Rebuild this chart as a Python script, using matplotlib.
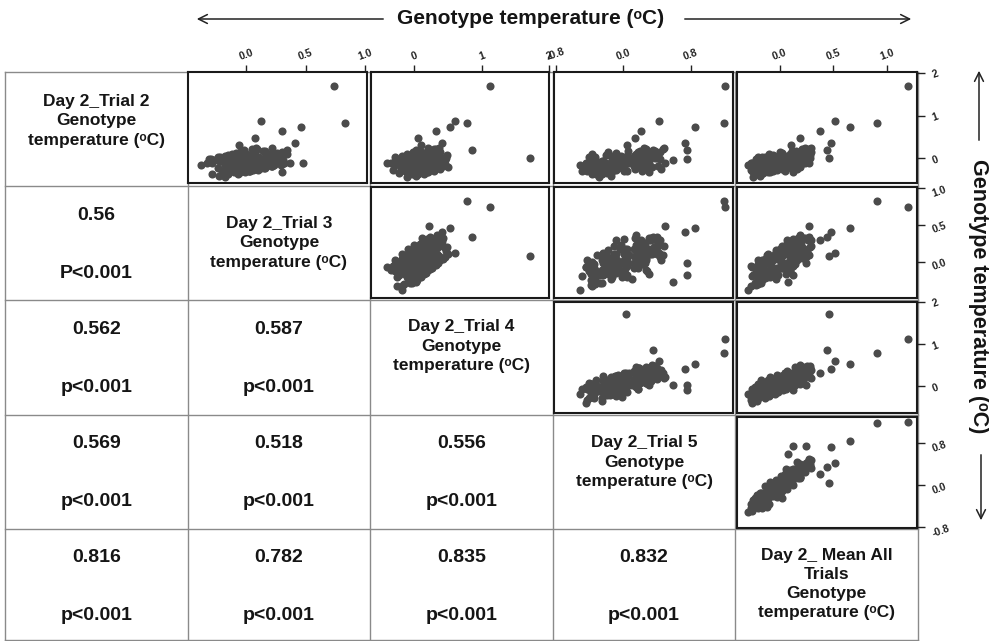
import matplotlib
matplotlib.use("Agg")
import matplotlib.pyplot as plt

plt.rcParams['font.family'] = ['Liberation Sans', 'DejaVu Sans']

# Genotype canopy temperature (°C) on day 2, one entry per genotype
trial2 = [-0.11, -0.43, -0.12, -0.35, -0.12, -0.14, -0.01, -0.29, -0.35, -0.15,
          -0.17, -0.24, -0.03, -0.36, -0.06, -0.29, -0.07, -0.08, 0.04, -0.24,
          -0.30, -0.10, -0.13, -0.19, 0.01, -0.32, -0.01, -0.25, -0.03, -0.04,
          0.08, -0.20, -0.26, -0.06, -0.09, -0.15, 0.05, -0.28, 0.03, -0.21,
          0.02, 0.00, 0.12, -0.16, -0.22, -0.02, -0.05, -0.11, 0.09, -0.24,
          0.07, -0.17, 0.06, 0.04, 0.17, -0.11, -0.18, 0.03, 0.01, -0.06,
          0.15, -0.18, 0.13, -0.11, 0.12, 0.10, 0.23, -0.05, -0.12, 0.09,
          0.07, 0.01,
          1.70, 0.83, 0.88, 0.74, 0.63, 0.48, 0.35, -0.11, -0.33, 0.01,
          0.19, 0.19, -0.02, -0.05, 0.30, 0.15, 0.00, 0.22,
          -0.27, -0.24, -0.16, -0.36, -0.42, -0.31, 0.02, -0.02, -0.07, -0.25,
          -0.21, -0.18, -0.11, -0.30, -0.37, -0.27, 0.06, 0.03, -0.02, -0.21,
          -0.17, -0.14, -0.07, -0.27, -0.33, -0.23, 0.10, 0.06, 0.02, -0.17,
          -0.13, -0.11, -0.03, -0.23, -0.29, -0.19, 0.14, 0.10, 0.06, -0.13,
          -0.09, -0.07, 0.01, -0.19, -0.25, -0.15, 0.18, 0.15, 0.10, -0.09,
          -0.04, -0.02, 0.06, -0.14, -0.20, -0.10, 0.24, 0.21, 0.17, -0.02]
trial3 = [-0.33, -0.18, -0.07, -0.07, -0.11, -0.18, -0.30, -0.19, -0.06, -0.03,
          -0.18, -0.24, -0.21, -0.07, 0.03, 0.03, -0.02, -0.10, -0.22, -0.11,
          0.02, 0.04, -0.11, -0.16, -0.14, -0.01, 0.10, 0.09, 0.04, -0.03,
          -0.15, -0.04, 0.08, 0.10, -0.05, -0.10, -0.08, 0.06, 0.17, 0.16,
          0.10, 0.03, -0.09, 0.02, 0.15, 0.17, 0.02, -0.04, -0.02, 0.12,
          0.23, 0.23, 0.17, 0.10, -0.02, 0.09, 0.22, 0.25, 0.10, 0.04,
          0.07, 0.21, 0.32, 0.32, 0.26, 0.19, 0.08, 0.19, 0.32, 0.34,
          0.20, 0.15,
          0.74, 0.83, 0.12, 0.46, 0.30, 0.07, 0.41, 0.48, 0.30, 0.08,
          0.34, -0.02, -0.18, -0.27, -0.06, 0.30, 0.28, 0.09,
          -0.06, -0.16, -0.38, -0.29, -0.23, 0.02, -0.13, -0.31, -0.21, -0.08,
          0.04, -0.07, -0.29, -0.20, -0.15, 0.10, -0.06, -0.24, -0.14, -0.01,
          0.11, 0.00, -0.23, -0.15, -0.10, 0.16, 0.00, -0.18, -0.08, 0.04,
          0.17, 0.05, -0.17, -0.08, -0.03, 0.22, 0.06, -0.12, -0.02, 0.11,
          0.24, 0.12, -0.11, -0.02, 0.03, 0.29, 0.14, -0.05, 0.05, 0.18,
          0.31, 0.20, -0.03, 0.06, 0.11, 0.37, 0.22, 0.05, 0.16, 0.29]
trial4 = [-0.26, -0.11, -0.41, -0.22, -0.35, -0.22, -0.15, -0.06, -0.09, -0.28,
          -0.05, 0.04, -0.10, 0.05, -0.28, -0.08, -0.23, -0.10, -0.04, 0.05,
          0.02, -0.18, 0.05, 0.14, -0.01, 0.13, -0.18, 0.00, -0.15, -0.01,
          0.05, 0.14, 0.11, -0.09, 0.14, 0.23, 0.08, 0.22, -0.09, 0.09,
          -0.06, 0.07, 0.13, 0.23, 0.20, 0.00, 0.23, 0.32, 0.17, 0.31,
          0.00, 0.19, 0.03, 0.16, 0.23, 0.32, 0.30, 0.11, 0.34, 0.43,
          0.29, 0.43, 0.12, 0.31, 0.16, 0.29, 0.37, 0.46, 0.43, 0.24,
          0.48, 0.47,
          1.13, 0.78, 0.60, 0.53, 0.32, 0.05, 0.41, 0.22, 0.19, 1.72,
          0.86, 0.03, -0.09, 0.03, 0.10, 0.38, 0.42, 0.30,
          -0.32, -0.14, -0.18, -0.03, 0.03, -0.13, -0.28, -0.17, -0.25, -0.19,
          -0.18, -0.01, -0.06, 0.10, 0.14, -0.03, -0.18, -0.07, -0.15, -0.09,
          -0.09, 0.08, 0.03, 0.17, 0.21, 0.06, -0.11, 0.01, -0.07, -0.01,
          0.00, 0.16, 0.11, 0.26, 0.30, 0.14, -0.02, 0.09, 0.02, 0.08,
          0.09, 0.25, 0.20, 0.35, 0.39, 0.23, 0.08, 0.19, 0.11, 0.18,
          0.19, 0.36, 0.31, 0.46, 0.50, 0.34, 0.20, 0.33, 0.26, 0.33]
trial5 = [-0.37, -0.29, -0.44, -0.19, -0.25, -0.16, -0.34, -0.49, -0.15, -0.35,
          -0.24, -0.37, -0.13, -0.37, -0.25, -0.43, -0.08, 0.02, -0.34, -0.33,
          0.01, -0.21, -0.09, -0.23, 0.00, -0.24, -0.11, -0.31, 0.05, 0.15,
          -0.21, -0.20, 0.14, -0.08, 0.03, -0.10, 0.13, -0.11, 0.02, -0.18,
          0.18, 0.27, -0.09, -0.07, 0.27, 0.05, 0.16, 0.03, 0.26, 0.01,
          0.15, -0.03, 0.31, 0.40, 0.06, 0.07, 0.41, 0.21, 0.32, 0.19,
          0.43, 0.19, 0.33, 0.14, 0.26, 0.15, 0.25, 0.27, 0.30, 0.40,
          0.37, 0.38,
          1.21, 1.19, 0.42, 0.85, 0.21, 0.14, 0.73, 0.50, 0.31, 0.03,
          0.35, 0.75, 0.75, 0.59, 0.05, 0.33, 0.40, 0.47,
          -0.43, -0.38, -0.51, -0.25, -0.15, -0.24, -0.40, -0.38, -0.01, -0.35,
          -0.22, -0.44, -0.27, 0.05, -0.32, -0.24, -0.15, -0.38, -0.04, -0.13,
          0.01, -0.41, 0.10, -0.09, -0.15, 0.01, -0.37, 0.04, 0.17, -0.16,
          -0.04, -0.23, 0.31, -0.06, 0.22, -0.11, -0.18, 0.28, -0.03, 0.27,
          0.19, -0.24, 0.27, 0.13, 0.45, -0.08, 0.20, 0.18, 0.17, 0.13,
          0.01, 0.22, 0.23, 0.15, 0.34, 0.15, 0.48, 0.27, 0.38, 0.44]
mean_all = [-0.27, -0.25, -0.26, -0.21, -0.21, -0.18, -0.20, -0.26, -0.16, -0.20,
            -0.16, -0.20, -0.12, -0.19, -0.14, -0.20, -0.10, -0.07, -0.14, -0.16,
            -0.06, -0.11, -0.07, -0.11, -0.04, -0.11, -0.05, -0.12, -0.02, 0.02,
            -0.06, -0.08, 0.02, -0.03, 0.01, -0.03, 0.05, -0.03, 0.03, -0.04,
            0.06, 0.10, 0.02, 0.01, 0.10, 0.05, 0.09, 0.05, 0.13, 0.05,
            0.11, 0.06, 0.14, 0.18, 0.11, 0.10, 0.19, 0.15, 0.19, 0.15,
            0.24, 0.16, 0.22, 0.17, 0.20, 0.19, 0.23, 0.22, 0.23, 0.27,
            0.28, 0.25,
            1.20, 0.91, 0.51, 0.65, 0.37, 0.19, 0.48, 0.27, 0.12, 0.46,
            0.44, 0.24, 0.12, 0.08, 0.10, 0.29, 0.28, 0.27,
            -0.27, -0.23, -0.30, -0.23, -0.19, -0.17, -0.20, -0.22, -0.14, -0.22,
            -0.14, -0.17, -0.18, -0.09, -0.18, -0.11, -0.08, -0.17, -0.09, -0.11,
            -0.04, -0.12, -0.04, -0.08, -0.09, 0.00, -0.10, -0.02, 0.01, -0.08,
            0.00, -0.03, 0.06, -0.03, 0.05, 0.02, 0.00, 0.09, 0.01, 0.08,
            0.11, 0.02, 0.09, 0.07, 0.16, 0.07, 0.15, 0.12, 0.11, 0.10,
            0.12, 0.19, 0.14, 0.14, 0.19, 0.19, 0.29, 0.21, 0.24, 0.26]

var_labels = [
    "Day 2_Trial 2\nGenotype\ntemperature (\u1d52C)",
    "Day 2_Trial 3\nGenotype\ntemperature (\u1d52C)",
    "Day 2_Trial 4\nGenotype\ntemperature (\u1d52C)",
    "Day 2_Trial 5\nGenotype\ntemperature (\u1d52C)",
    "Day 2_ Mean All\nTrials\nGenotype\ntemperature (\u1d52C)",
]
var_limits = [(-0.58, 2.02), (-0.49, 1.015), (-0.64, 2.0), (-0.82, 1.30), (-0.40, 1.28)]
var_ticks = [[0, 1, 2], [0.0, 0.5, 1.0], [0, 1, 2], [-0.8, 0.0, 0.8], [0.0, 0.5, 1.0]]
var_ticklabels = [["0", "1", "2"], ["0.0", "0.5", "1.0"], ["0", "1", "2"],
                  ["-0.8", "0.0", "0.8"], ["0.0", "0.5", "1.0"]]

# Pearson correlations (lower triangle, row by row) and significance
corr_values = [["0.56"],
               ["0.562", "0.587"],
               ["0.569", "0.518", "0.556"],
               ["0.816", "0.782", "0.835", "0.832"]]
p_values = [["P<0.001"],
            ["p<0.001", "p<0.001"],
            ["p<0.001", "p<0.001", "p<0.001"],
            ["p<0.001", "p<0.001", "p<0.001", "p<0.001"]]

axis_title = "Genotype temperature (\u1d52C)"

# ---- layout (pixels) ----
W, H = 989, 641
col_edges = [5, 188, 370, 553, 735, 918]
row_edges = [72, 186, 300, 415, 529, 641]
panel_x = [(188, 367), (371, 549), (554, 733), (737, 917)]
panel_y = [(72, 183), (187, 298), (302, 413), (417, 528)]
label_y = [121, 243, 346, 462, 584]

fig = plt.figure(figsize=(W / 100, H / 100), dpi=100)
fig.patch.set_facecolor('white')


def frac_box(x0, x1, y0, y1):
    return [x0 / W, 1 - y1 / H, (x1 - x0) / W, (y1 - y0) / H]


bg = fig.add_axes([0, 0, 1, 1])
bg.set_xlim(0, W)
bg.set_ylim(H, 0)
bg.axis('off')

grid_color = '#8a8a8a'
for x in col_edges:
    bg.plot([x, x], [row_edges[0], row_edges[-1] - 1], color=grid_color, lw=1)
for y in row_edges[:-1] + [row_edges[-1] - 1]:
    bg.plot([col_edges[0], col_edges[-1]], [y, y], color=grid_color, lw=1)

txt = '#151515'
# diagonal labels
for k, lab in enumerate(var_labels):
    cx = (col_edges[k] + col_edges[k + 1]) / 2
    bg.text(cx, label_y[k], lab, ha='center', va='center', fontsize=12.5,
            fontweight='bold', color=txt, linespacing=1.35)

# correlation cells
for r, (vals, ps) in enumerate(zip(corr_values, p_values)):
    row = r + 1
    top = row_edges[row]
    for c, (v, p) in enumerate(zip(vals, ps)):
        cx = (col_edges[c] + col_edges[c + 1]) / 2
        bg.text(cx, top + 29, v, ha='center', va='center', fontsize=14,
                fontweight='bold', color=txt)
        bg.text(cx, top + 87, p, ha='center', va='center', fontsize=14,
                fontweight='bold', color=txt)

# outer axis titles with arrows
arrow_kw = dict(arrowstyle='->', lw=1.1, color='#222222', mutation_scale=16)
bg.text(531, 18, axis_title, ha='center', va='center', fontsize=15,
        fontweight='bold', color=txt)
bg.annotate('', xy=(194, 19), xytext=(386, 19), arrowprops=arrow_kw)
bg.annotate('', xy=(914, 19), xytext=(682, 19), arrowprops=arrow_kw)
bg.text(978, 296, axis_title, ha='center', va='center', fontsize=15.5,
        fontweight='bold', color=txt, rotation=-90)
bg.annotate('', xy=(979, 68), xytext=(979, 143), arrowprops=arrow_kw)
bg.annotate('', xy=(981, 523), xytext=(981, 452), arrowprops=arrow_kw)

# scatter panels (upper triangle)
data = [trial2, trial3, trial4, trial5, mean_all]
for i in range(4):
    for j in range(i + 1, 5):
        x0, x1 = panel_x[j - 1]
        y0, y1 = panel_y[i]
        ax = fig.add_axes(frac_box(x0, x1, y0, y1))
        ax.set_facecolor('white')
        ax.scatter(data[j], data[i], s=34, color='#4b4b4b', linewidths=0,
                   zorder=3)
        ax.set_xlim(var_limits[j])
        ax.set_ylim(var_limits[i])
        for sp in ax.spines.values():
            sp.set_linewidth(1.5)
            sp.set_color('#1a1a1a')
        ax.set_xticks([])
        ax.set_yticks([])
        if i == 0:
            ax.xaxis.tick_top()
            ax.set_xticks(var_ticks[j])
            ax.set_xticklabels(var_ticklabels[j], rotation=20, fontsize=7.5,
                               fontweight='bold', color='#222222')
            ax.tick_params(axis='x', length=5, width=1, pad=2, color='#222222')
        if j == 4:
            ax.yaxis.tick_right()
            ax.set_yticks(var_ticks[i])
            ax.set_yticklabels(var_ticklabels[i], rotation=20, fontsize=7.5,
                               fontweight='bold', color='#222222')
            ax.tick_params(axis='y', length=6, width=1, pad=4, color='#222222')

fig.savefig('out.png', dpi=100, facecolor='white')
